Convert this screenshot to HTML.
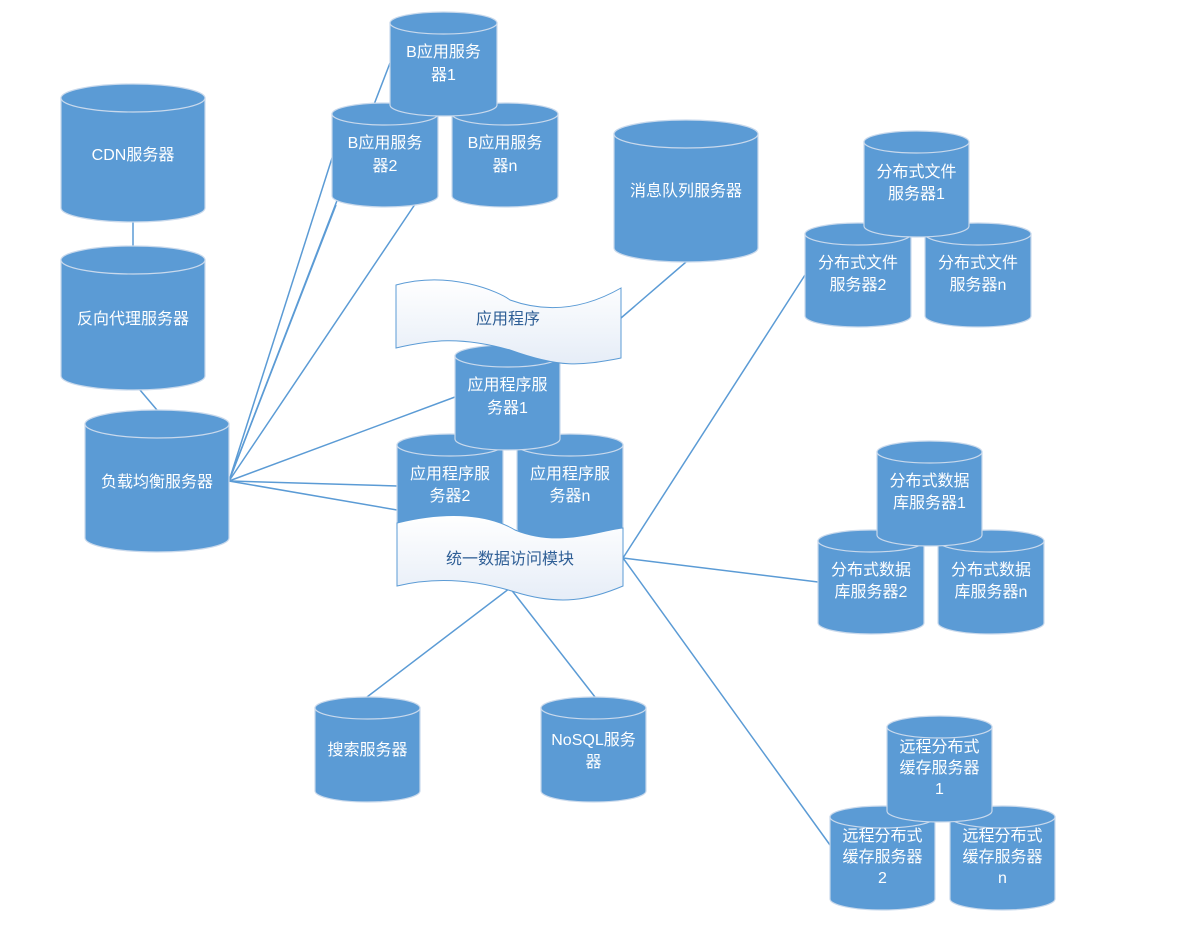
<!DOCTYPE html>
<html><head><meta charset="utf-8"><style>
body{margin:0;background:#fff}
text{font-family:"Liberation Sans","Noto Sans CJK SC",sans-serif;font-size:16px;text-anchor:middle}
.w{fill:#fff}.b{fill:#2f5f96}
.c path,.c ellipse{fill:#5b9bd5;stroke:#c9d9ec;stroke-width:1.2}
</style></head><body>
<svg width="1190" height="928" viewBox="0 0 1190 928" xmlns="http://www.w3.org/2000/svg">
<defs>
<linearGradient id="wg" x1="0" y1="0" x2="0" y2="1"><stop offset="0" stop-color="#fff"/><stop offset="1" stop-color="#e6edf7"/></linearGradient>
</defs>
<g stroke="#5b9bd5" stroke-width="1.5" fill="none">
<line x1="133" y1="222" x2="133" y2="246"/>
<line x1="140" y1="390" x2="157" y2="410"/>
<line x1="229" y1="481" x2="390" y2="63"/>
<line x1="229" y1="481" x2="333" y2="155"/>
<line x1="229" y1="481" x2="336" y2="205"/>
<line x1="229" y1="481" x2="438" y2="170"/>
<line x1="229" y1="481" x2="455" y2="397"/>
<line x1="229" y1="481" x2="397" y2="486"/>
<line x1="229" y1="481" x2="397" y2="510"/>
<line x1="686" y1="262" x2="621" y2="318"/>
<line x1="623" y1="558" x2="805" y2="275"/>
<line x1="623" y1="558" x2="818" y2="582"/>
<line x1="623" y1="558" x2="830" y2="845"/>
<line x1="510" y1="588" x2="367" y2="697"/>
<line x1="510" y1="588" x2="595" y2="697"/>
</g>
<g class="c">
<path d="M61 98 L61 208 A72 14 0 0 0 205 208 L205 98Z"/><ellipse cx="133" cy="98" rx="72" ry="14"/>
<text class="w" x="133" y="160">CDN服务器</text>

<path d="M61 260 L61 376 A72 14 0 0 0 205 376 L205 260Z"/><ellipse cx="133" cy="260" rx="72" ry="14"/>
<text class="w" x="133" y="324">反向代理服务器</text>

<path d="M85 424 L85 538 A72 14 0 0 0 229 538 L229 424Z"/><ellipse cx="157" cy="424" rx="72" ry="14"/>
<text class="w" x="157" y="487">负载均衡服务器</text>

<path d="M332 114 L332 196 A53 11 0 0 0 438 196 L438 114Z"/><ellipse cx="385" cy="114" rx="53" ry="11"/>
<text class="w" x="385" y="148">B应用服务</text><text class="w" x="385" y="171">器2</text>

<path d="M452 114 L452 196 A53 11 0 0 0 558 196 L558 114Z"/><ellipse cx="505" cy="114" rx="53" ry="11"/>
<text class="w" x="505" y="148">B应用服务</text><text class="w" x="505" y="171">器n</text>

<path d="M390 23 L390 105 A53.5 11 0 0 0 497 105 L497 23Z"/><ellipse cx="443.5" cy="23" rx="53.5" ry="11"/>
<text class="w" x="443.5" y="57">B应用服务</text><text class="w" x="443.5" y="80">器1</text>

<path d="M614 134 L614 248 A72 14 0 0 0 758 248 L758 134Z"/><ellipse cx="686" cy="134" rx="72" ry="14"/>
<text class="w" x="686" y="196">消息队列服务器</text>

<path d="M397 445 L397 529 A53 11 0 0 0 503 529 L503 445Z"/><ellipse cx="450" cy="445" rx="53" ry="11"/>
<text class="w" x="450" y="479">应用程序服</text><text class="w" x="450" y="501">务器2</text>

<path d="M517 445 L517 529 A53 11 0 0 0 623 529 L623 445Z"/><ellipse cx="570" cy="445" rx="53" ry="11"/>
<text class="w" x="570" y="479">应用程序服</text><text class="w" x="570" y="501">务器n</text>

<path d="M455 356 L455 439 A52.5 11 0 0 0 560 439 L560 356Z"/><ellipse cx="507.5" cy="356" rx="52.5" ry="11"/>
<text class="w" x="507.5" y="390">应用程序服</text><text class="w" x="507.5" y="413">务器1</text>

<path d="M805 234 L805 316 A53 11 0 0 0 911 316 L911 234Z"/><ellipse cx="858" cy="234" rx="53" ry="11"/>
<text class="w" x="858" y="268">分布式文件</text><text class="w" x="858" y="290">服务器2</text>

<path d="M925 234 L925 316 A53 11 0 0 0 1031 316 L1031 234Z"/><ellipse cx="978" cy="234" rx="53" ry="11"/>
<text class="w" x="978" y="268">分布式文件</text><text class="w" x="978" y="290">服务器n</text>

<path d="M864 142 L864 226 A52.5 11 0 0 0 969 226 L969 142Z"/><ellipse cx="916.5" cy="142" rx="52.5" ry="11"/>
<text class="w" x="916.5" y="177">分布式文件</text><text class="w" x="916.5" y="199">服务器1</text>

<path d="M818 541 L818 623 A53 11 0 0 0 924 623 L924 541Z"/><ellipse cx="871" cy="541" rx="53" ry="11"/>
<text class="w" x="871" y="575">分布式数据</text><text class="w" x="871" y="597">库服务器2</text>

<path d="M938 541 L938 623 A53 11 0 0 0 1044 623 L1044 541Z"/><ellipse cx="991" cy="541" rx="53" ry="11"/>
<text class="w" x="991" y="575">分布式数据</text><text class="w" x="991" y="597">库服务器n</text>

<path d="M877 452 L877 535 A52.5 11 0 0 0 982 535 L982 452Z"/><ellipse cx="929.5" cy="452" rx="52.5" ry="11"/>
<text class="w" x="929.5" y="486">分布式数据</text><text class="w" x="929.5" y="508">库服务器1</text>

<path d="M830 817 L830 899 A52.5 11 0 0 0 935 899 L935 817Z"/><ellipse cx="882.5" cy="817" rx="52.5" ry="11"/>
<text class="w" x="882.5" y="841">远程分布式</text><text class="w" x="882.5" y="862">缓存服务器</text><text class="w" x="882.5" y="883">2</text>

<path d="M950 817 L950 899 A52.5 11 0 0 0 1055 899 L1055 817Z"/><ellipse cx="1002.5" cy="817" rx="52.5" ry="11"/>
<text class="w" x="1002.5" y="841">远程分布式</text><text class="w" x="1002.5" y="862">缓存服务器</text><text class="w" x="1002.5" y="883">n</text>

<path d="M887 727 L887 811 A52.5 11 0 0 0 992 811 L992 727Z"/><ellipse cx="939.5" cy="727" rx="52.5" ry="11"/>
<text class="w" x="939.5" y="752">远程分布式</text><text class="w" x="939.5" y="773">缓存服务器</text><text class="w" x="939.5" y="794">1</text>

<path d="M315 708 L315 791 A52.5 11 0 0 0 420 791 L420 708Z"/><ellipse cx="367.5" cy="708" rx="52.5" ry="11"/>
<text class="w" x="367.5" y="755">搜索服务器</text>

<path d="M541 708 L541 791 A52.5 11 0 0 0 646 791 L646 708Z"/><ellipse cx="593.5" cy="708" rx="52.5" ry="11"/>
<text class="w" x="593.5" y="745">NoSQL服务</text><text class="w" x="593.5" y="767">器</text>
</g>
<path d="M396 285 C450 270,500 292,510 300 C560 318,600 300,621 288 L621 358 C580 366,560 368,510 350 C460 336,430 340,396 348 Z" fill="url(#wg)" stroke="#5b9bd5" stroke-width="1"/>
<text class="b" x="508" y="324">应用程序</text>
<path d="M397 523 C450 510,490 515,515 530 C560 548,600 530,623 528 L623 586 C590 600,560 606,515 592 C470 578,430 578,397 586 Z" fill="url(#wg)" stroke="#5b9bd5" stroke-width="1"/>
<text class="b" x="510" y="564">统一数据访问模块</text>
</svg>
</body></html>
